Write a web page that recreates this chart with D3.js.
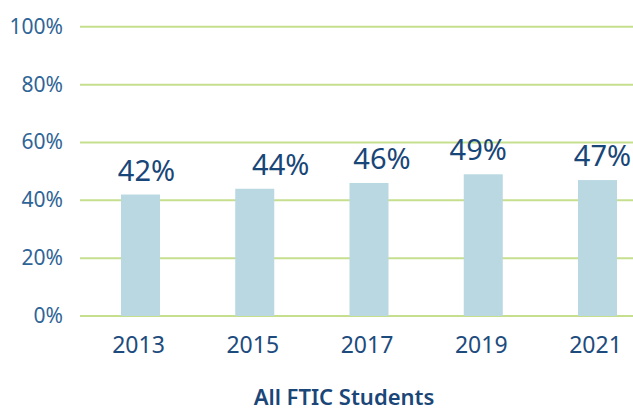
<!DOCTYPE html>
<html>
<head>
<meta charset="utf-8">
<script src="https://cdn.jsdelivr.net/npm/d3@7"></script>
<style>
  body { margin: 0; background: #fff; }
  svg { display: block; font-family: "Noto Sans", sans-serif; }
</style>
</head>
<body>
<svg id="chart" width="633" height="411"></svg>
<script>
// data
const years = ['2013', '2015', '2017', '2019', '2021'];
const rates = [42, 44, 46, 49, 47];
const yTicks = [0, 20, 40, 60, 80, 100];
const groupLabel = 'All FTIC Students';

// labels in the original are hand placed, small nudges (px)
const labelNudge = [6, 26, 13, -5, 5];

const svg = d3.select('#chart');

const x = d3.scalePoint()
    .domain(years)
    .range([140.5, 597.5]);

const y = d3.scaleLinear()
    .domain([0, 100])
    .range([316, 26.8]);

const barW = 39;

// gridlines
svg.append('g')
    .selectAll('line')
    .data(yTicks)
    .join('line')
    .attr('x1', 80)
    .attr('x2', 633)
    .attr('y1', d => y(d))
    .attr('y2', d => y(d))
    .attr('stroke', '#c6df8f')
    .attr('stroke-width', 2);

// y axis labels
svg.append('g')
    .selectAll('text')
    .data(yTicks)
    .join('text')
    .attr('x', 63)
    .attr('y', d => y(d) + 7)
    .attr('text-anchor', 'end')
    .attr('font-size', 21)
    .attr('fill', '#2f6496')
    .text(d => d + '%');

// bars
svg.append('g')
    .selectAll('rect')
    .data(rates)
    .join('rect')
    .attr('x', (d, i) => x(years[i]) - barW / 2)
    .attr('y', d => y(d))
    .attr('width', barW)
    .attr('height', d => y(0) - y(d))
    .attr('fill', '#b9d8e2');

// value labels
svg.append('g')
    .selectAll('text')
    .data(rates)
    .join('text')
    .attr('x', (d, i) => x(years[i]) + labelNudge[i])
    .attr('y', d => y(d) - 14)
    .attr('text-anchor', 'middle')
    .attr('font-size', 29)
    .attr('fill', '#184678')
    .text(d => d + '%');

// x axis labels
svg.append('g')
    .selectAll('text')
    .data(years)
    .join('text')
    .attr('x', d => x(d) - 2)
    .attr('y', 353)
    .attr('text-anchor', 'middle')
    .attr('font-size', 23)
    .attr('fill', '#1d4b7e')
    .text(d => d);

// group label
svg.append('text')
    .attr('x', 344)
    .attr('y', 405)
    .attr('text-anchor', 'middle')
    .attr('font-size', 22)
    .attr('font-weight', 600)
    .attr('fill', '#1a4678')
    .text(groupLabel);
</script>
</body>
</html>
